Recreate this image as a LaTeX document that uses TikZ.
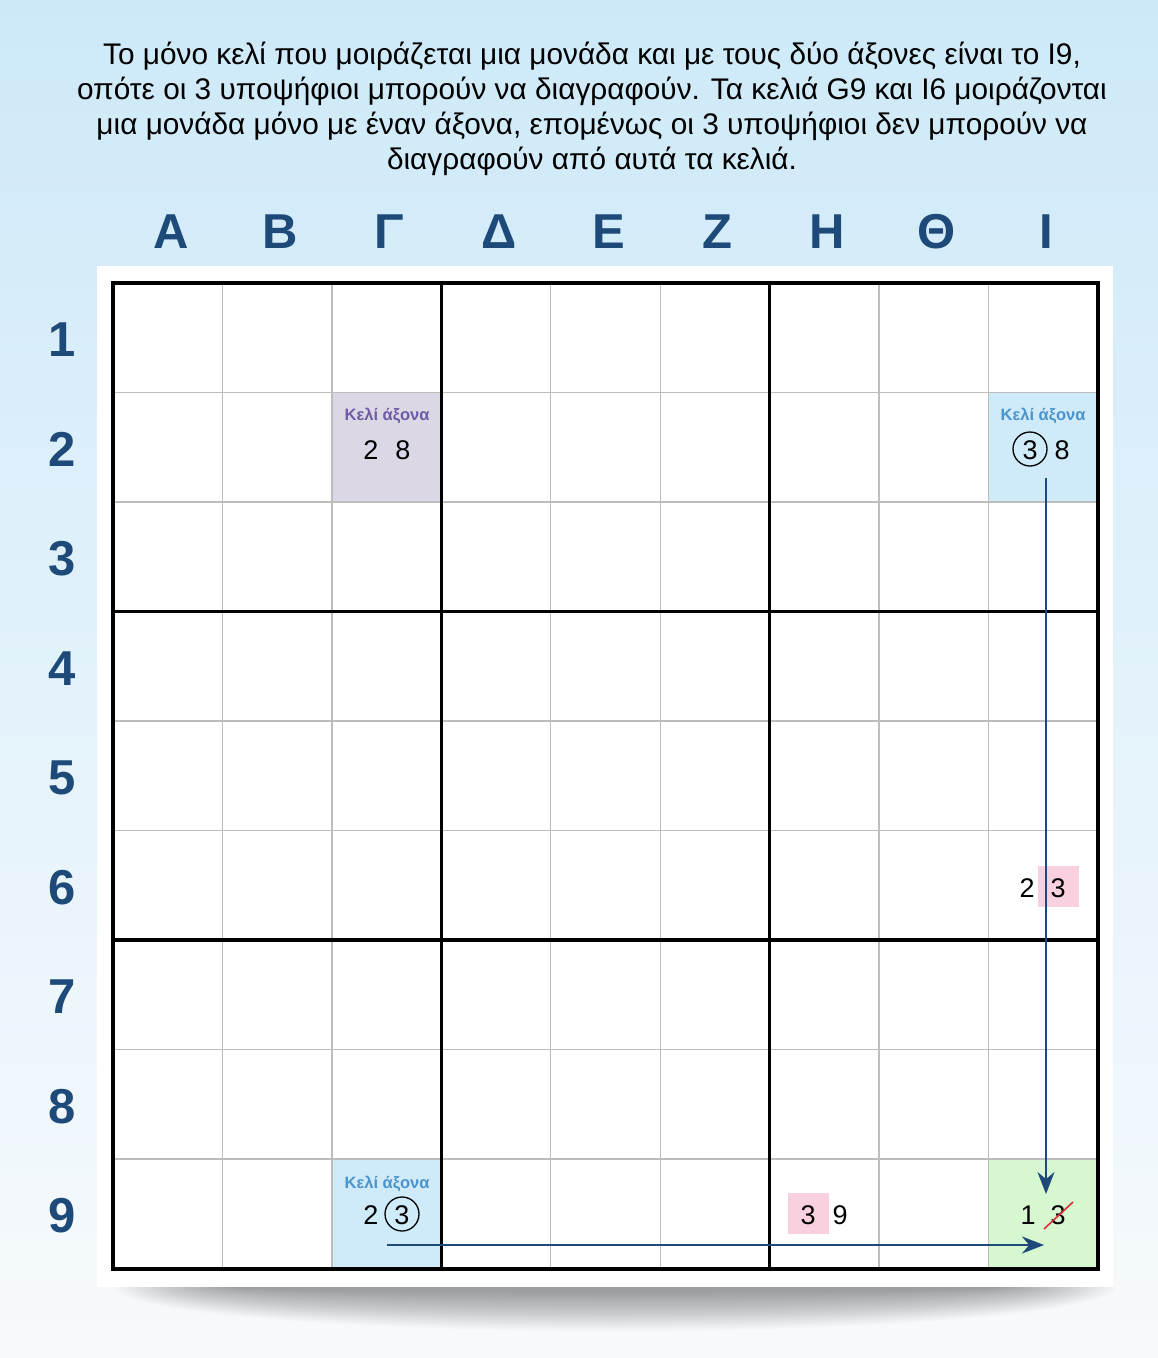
\documentclass[tikz,border=0pt]{standalone}
\usepackage{fontspec}
\setmainfont{Liberation Sans}
\usetikzlibrary{arrows.meta}
\definecolor{bgtop}{HTML}{CDE9F8}
\definecolor{bgmid}{HTML}{E3F2FB}
\definecolor{bgbot}{HTML}{F7FAFC}
\definecolor{navy}{HTML}{1D4A78}
\definecolor{thingray}{HTML}{BDBDBD}
\definecolor{purplefill}{HTML}{DCD7E5}
\definecolor{purpletext}{HTML}{6E5AA6}
\definecolor{bluefill}{HTML}{CFEAF9}
\definecolor{bluetext}{HTML}{4A94CC}
\definecolor{greenfill}{HTML}{D6F7CF}
\definecolor{pinkfill}{HTML}{F9D0E0}
\definecolor{strikered}{HTML}{D9303A}
\tikzset{
  headlabel/.style={font=\fontsize{49}{49}\selectfont\bfseries, text=navy, anchor=center},
  cellbox/.style={minimum width=109.44pt, minimum height=109.5pt, inner sep=0pt, draw=none},
  axislabel/.style={font=\fontsize{16.5}{18}\selectfont\bfseries, inner sep=0pt},
  cand/.style={font=\fontsize{27}{27}\selectfont, inner sep=0pt, text=black},
  pinkbox/.style={fill=pinkfill, minimum width=41pt, minimum height=41pt, inner sep=0pt},
  ring/.style={draw=black, line width=1.3pt, circle, minimum size=34pt, inner sep=0pt},
  linkarrow/.style={draw=navy, line width=2pt, -{Stealth[length=22pt, width=17pt]}},
  thinline/.style={draw=thingray, line width=1.4pt},
  thickline/.style={draw=black, line width=3.5pt},
}
\begin{document}
\begin{tikzpicture}[x=1pt, y=-1pt]
\useasboundingbox (0,0) rectangle (1158,1358);
% background
\shade[top color=bgtop, bottom color=bgbot, middle color=bgmid] (0,0) rectangle (1158,1358);
% soft shadow under the panel
\begin{scope}
  \clip (90,1287) rectangle (1120,1358);
  \foreach \k in {0,...,19} {
    \fill[black, opacity=0.018] (615,1287) ellipse ({500-6*\k} and {44-2*\k});
  }
\end{scope}
% white panel
\fill[white] (97,266) rectangle (1113,1287);
% title
\node[align=center, font=\fontsize{29.8}{34.8}\selectfont, text=black] (title) at (592,109)
 {Το μόνο κελί που μοιράζεται μια μονάδα και με τους δύο άξονες είναι το Ι9,\\
  οπότε οι 3 υποψήφιοι μπορούν να διαγραφούν. Τα κελιά G9 και I6 μοιράζονται\\
  μια μονάδα μόνο με έναν άξονα, επομένως οι 3 υποψήφιοι δεν μπορούν να\\
  διαγραφούν από αυτά τα κελιά.};
% column labels
\foreach \l [count=\i] in {Α,Β,Γ,Δ,Ε,Ζ,Η,Θ,Ι} {
  \node[headlabel] (col\i) at ({113+109.44*(\i-0.5)+3},232) {\l};
}
% row labels
\foreach \i in {1,...,9} {
  \node[headlabel] (row\i) at (62,{283+109.5*(\i-0.5)+2}) {\i};
}
% highlighted cells
\node[cellbox, fill=purplefill] (G2) at ({113+109.44*2.5},{283+109.5*1.5}) {};
\node[cellbox, fill=bluefill]   (I2) at ({113+109.44*8.5},{283+109.5*1.5}) {};
\node[cellbox, fill=bluefill]   (G9) at ({113+109.44*2.5},{283+109.5*8.5}) {};
\node[cellbox, fill=greenfill]  (I9) at ({113+109.44*8.5},{283+109.5*8.5}) {};
\node[cellbox] (H9) at ({113+109.44*6.5},{283+109.5*8.5}) {};
\node[cellbox] (I6) at ({113+109.44*8.5},{283+109.5*5.5}) {};
% pink backgrounds
\node[pinkbox] (pinkH9) at (808,1213) {};
\node[pinkbox] (pinkI6) at (1058,886) {};
% thin grid lines
\foreach \i in {1,2,4,5,7,8} {
  \draw[thinline] ({113+109.44*\i},283) -- ({113+109.44*\i},1269);
  \draw[thinline] (113,{283+109.5*\i}) -- (1098,{283+109.5*\i});
}
% thick grid lines
\foreach \i in {3,6} {
  \draw[thickline] ({113+109.44*\i},283) -- ({113+109.44*\i},1269);
  \draw[thickline] (113,{283+109.5*\i}) -- (1098,{283+109.5*\i});
}
\draw[draw=black, line width=4pt] (113,283) rectangle (1098,1269);
% axis labels
\node[axislabel, text=purpletext] (G2lab) at (387,416) {Κελί άξονα};
\node[axislabel, text=bluetext] (I2lab) at (1043,416) {Κελί άξονα};
\node[axislabel, text=bluetext] (G9lab) at (387,1184) {Κελί άξονα};
% candidates
\node[cand] (G2a) at (371,450) {2};
\node[cand] (G2b) at (403,450) {8};
\node[cand] (I2a) at (1030,450) {3};
\node[ring] (I2ring) at (1030,449) {};
\node[cand] (I2b) at (1062,450) {8};
\node[cand] (G9a) at (371,1215) {2};
\node[cand] (G9b) at (402,1215) {3};
\node[ring] (G9ring) at (402,1214) {};
\node[cand] (H9a) at (808,1215) {3};
\node[cand] (H9b) at (840,1215) {9};
\node[cand] (I6a) at (1027,888) {2};
\node[cand] (I6b) at (1058,888) {3};
\node[cand] (I9a) at (1028,1215) {1};
\node[cand] (I9b) at (1058,1215) {3};
\draw[draw=strikered, line width=1.6pt] ([xshift=-14pt, yshift=-14pt]I9b.center) -- ([xshift=15pt, yshift=13pt]I9b.center);
% arrows
\coordinate (vstart) at (1046,478);
\coordinate (vend) at (1046,1194);
\coordinate (hstart) at (387,1245);
\coordinate (hend) at (1044,1245);
\draw[linkarrow] (vstart) -- (vend);
\draw[linkarrow] (hstart) -- (hend);
\end{tikzpicture}
\end{document}
